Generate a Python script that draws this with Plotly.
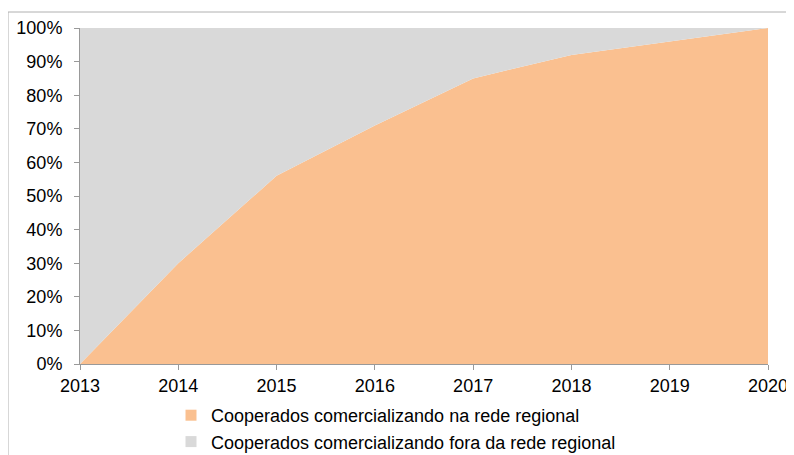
import plotly.graph_objects as go

years = [2013, 2014, 2015, 2016, 2017, 2018, 2019, 2020]
na_rede = [0, 30, 56, 71, 85, 92, 96, 100]
fora_rede = [100, 70, 44, 29, 15, 8, 4, 0]
name_na = "Cooperados comercializando na rede regional"
name_fora = "Cooperados comercializando fora da rede regional"
c_na = "#FAC090"
c_fora = "#D9D9D9"

fig = go.Figure()
fig.add_trace(go.Scatter(x=years, y=na_rede, name=name_na, mode="lines",
                         stackgroup="one", line=dict(width=0, color=c_na),
                         fillcolor=c_na, showlegend=False))
fig.add_trace(go.Scatter(x=years, y=fora_rede, name=name_fora, mode="lines",
                         stackgroup="one", line=dict(width=0, color=c_fora),
                         fillcolor=c_fora, showlegend=False))
# legend entries with square swatches
for i, (nm, c) in enumerate([(name_na, c_na), (name_fora, c_fora)]):
    fig.add_trace(go.Scatter(x=[None], y=[None], name=nm, mode="markers",
                             marker=dict(symbol="square", size=11, color=c),
                             legendgroup=f"g{i}", showlegend=True))

# the page places the figure 8px in from the window corner
L, T, W, H = 72, 20, 688, 336

def px_x(p):
    return (p - L) / W

def px_y(p):
    return (T + H - p) / H

fig.update_layout(
    width=794, height=455,
    margin=dict(l=L, r=794 - L - W, t=T, b=455 - T - H, autoexpand=False),
    paper_bgcolor="white", plot_bgcolor="white",
    font=dict(family="Liberation Sans, Arial, sans-serif", size=18, color="black"),
    showlegend=True,
    legend=dict(x=px_x(163), y=px_y(389), xanchor="left", yanchor="top",
                orientation="v", traceorder="normal", font=dict(size=18),
                itemwidth=30, tracegroupgap=2, bgcolor="rgba(0,0,0,0)"),
    xaxis=dict(range=[2013, 2020], tickmode="array", tickvals=years,
               ticktext=[str(y) for y in years], showgrid=False, zeroline=False,
               showline=True, linecolor="#999999", linewidth=1,
               ticks="outside", ticklen=5, tickcolor="#999999"),
    yaxis=dict(range=[0, 100], tickmode="array", tickvals=list(range(0, 101, 10)),
               ticktext=[f"{v}%" for v in range(0, 101, 10)], showgrid=False,
               zeroline=False, showline=True, linecolor="#999999", linewidth=1,
               ticks="outside", ticklen=5, tickcolor="#999999",
               ticklabelstandoff=8),
    shapes=[dict(type="rect", xref="paper", yref="paper",
                 x0=px_x(0), x1=px_x(820), y0=px_y(480), y1=px_y(4),
                 line=dict(color="#B0B0B0", width=1), fillcolor="rgba(0,0,0,0)",
                 layer="below")],
)

fig.write_html("out.html")
